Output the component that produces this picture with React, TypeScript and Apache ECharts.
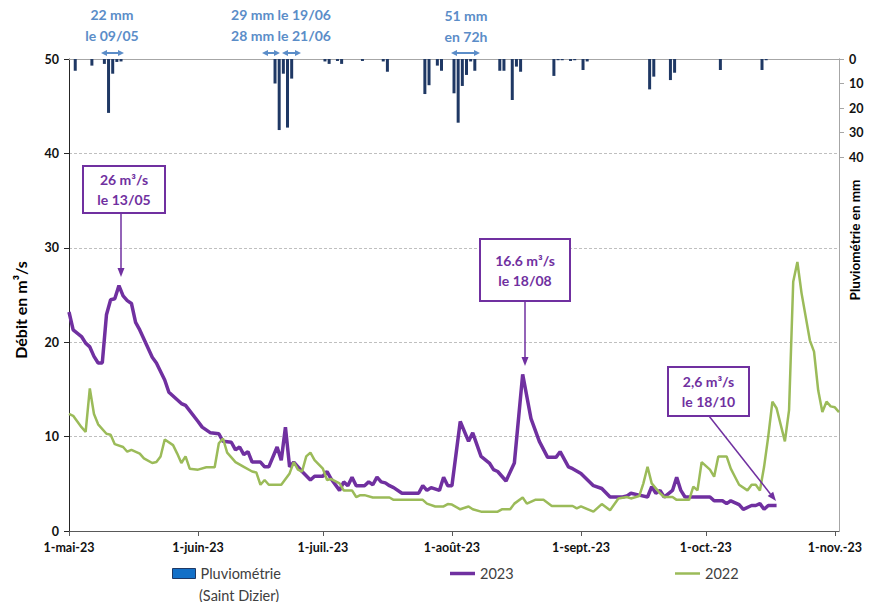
import React, { useEffect, useRef } from "react";
import * as echarts from "echarts";

const YEAR = "2023";
const DAY = 86400000;
const FONT = 'Lato, "Open Sans", sans-serif';

const MONTH_TICKS = ["05-01", "06-01", "07-01", "08-01", "09-01", "10-01", "11-01"];
const MONTH_LABELS = ["1-mai-23", "1-juin-23", "1-juil.-23", "1-août-23", "1-sept.-23", "1-oct.-23", "1-nov.-23"];
const AXIS_END = "11-02";

// Débit 2023 (m3/s)
const flow2023: [string, number][] = [
  ["05-01", 23.2], ["05-02", 21.3], ["05-04", 20.6], ["05-05", 19.9], ["05-06", 19.5], ["05-07", 18.5],
  ["05-08", 17.8], ["05-09", 17.8], ["05-10", 22.9], ["05-11", 24.5], ["05-12", 24.6], ["05-13", 26.0],
  ["05-14", 24.9], ["05-15", 24.4], ["05-16", 24.1], ["05-17", 22.1], ["05-18", 21.3], ["05-21", 18.4],
  ["05-22", 17.8], ["05-24", 16.0], ["05-25", 14.7], ["05-28", 13.5], ["05-29", 13.3], ["06-01", 11.6],
  ["06-02", 11.0], ["06-04", 10.4], ["06-06", 10.3], ["06-07", 9.5], ["06-09", 9.4], ["06-10", 8.6],
  ["06-11", 8.9], ["06-12", 8.1], ["06-13", 8.4], ["06-14", 7.3], ["06-16", 7.3], ["06-17", 6.8],
  ["06-18", 6.8], ["06-20", 8.9], ["06-21", 7.5], ["06-22", 11.0], ["06-23", 6.8], ["06-24", 7.3],
  ["06-26", 6.3], ["06-28", 5.4], ["06-29", 5.8], ["07-01", 5.8], ["07-02", 6.3], ["07-03", 5.5],
  ["07-05", 4.3], ["07-06", 5.2], ["07-07", 4.8], ["07-08", 5.7], ["07-09", 4.8], ["07-11", 4.8],
  ["07-12", 5.2], ["07-13", 4.9], ["07-14", 5.7], ["07-15", 5.2], ["07-16", 5.1], ["07-17", 4.8],
  ["07-18", 4.6], ["07-20", 4.0], ["07-24", 4.0], ["07-25", 4.8], ["07-26", 4.3], ["07-27", 4.6],
  ["07-29", 4.3], ["07-30", 5.7], ["07-31", 4.8], ["08-01", 4.8], ["08-03", 11.6], ["08-05", 9.5],
  ["08-06", 10.4], ["08-08", 7.9], ["08-10", 7.2], ["08-11", 6.5], ["08-12", 6.3], ["08-14", 5.3],
  ["08-16", 7.2], ["08-18", 16.6], ["08-20", 11.9], ["08-22", 9.5], ["08-24", 7.8], ["08-26", 7.8],
  ["08-27", 8.4], ["08-29", 6.8], ["08-30", 6.6], ["09-01", 6.1], ["09-04", 4.8], ["09-06", 4.5],
  ["09-08", 3.6], ["09-11", 3.6], ["09-12", 3.7], ["09-13", 4.0], ["09-15", 3.8], ["09-17", 3.6],
  ["09-18", 4.7], ["09-19", 4.0], ["09-20", 4.3], ["09-21", 3.6], ["09-23", 4.3], ["09-24", 5.7],
  ["09-25", 4.3], ["09-26", 3.6], ["10-02", 3.6], ["10-03", 3.2], ["10-05", 3.2], ["10-06", 2.9],
  ["10-07", 3.2], ["10-09", 2.8], ["10-10", 2.3], ["10-12", 2.7], ["10-13", 2.7], ["10-14", 2.9],
  ["10-15", 2.3], ["10-16", 2.7], ["10-18", 2.7],
];

// Débit 2022 (m3/s), même jour de l'année
const flow2022: [string, number][] = [
  ["05-01", 12.4], ["05-02", 12.2], ["05-04", 11.0], ["05-05", 10.5], ["05-06", 15.1], ["05-07", 12.4],
  ["05-08", 11.3], ["05-10", 10.3], ["05-11", 10.2], ["05-12", 9.2], ["05-14", 8.9], ["05-15", 8.4],
  ["05-16", 8.6], ["05-18", 8.2], ["05-19", 7.7], ["05-21", 7.2], ["05-22", 7.3], ["05-23", 7.9],
  ["05-24", 9.7], ["05-26", 9.1], ["05-27", 8.2], ["05-28", 7.2], ["05-29", 7.9], ["05-30", 6.6],
  ["06-01", 6.5], ["06-03", 6.75], ["06-05", 6.75], ["06-06", 9.3], ["06-07", 9.8], ["06-08", 8.3],
  ["06-10", 7.3], ["06-12", 6.8], ["06-14", 6.3], ["06-15", 6.2], ["06-16", 4.9], ["06-17", 5.4],
  ["06-18", 4.9], ["06-21", 4.9], ["06-23", 6.1], ["06-24", 7.3], ["06-25", 6.5], ["06-26", 6.3],
  ["06-27", 7.9], ["06-28", 8.3], ["06-29", 7.5], ["07-01", 6.6], ["07-02", 5.4], ["07-03", 5.5],
  ["07-05", 5.05], ["07-06", 4.3], ["07-08", 4.3], ["07-09", 3.6], ["07-10", 3.8], ["07-11", 3.8],
  ["07-13", 3.55], ["07-17", 3.55], ["07-18", 3.3], ["07-25", 3.3], ["07-26", 2.9], ["07-28", 2.6],
  ["07-30", 2.6], ["07-31", 2.85], ["08-01", 2.8], ["08-03", 2.3], ["08-05", 2.6], ["08-06", 2.3],
  ["08-08", 2.05], ["08-12", 2.05], ["08-13", 2.3], ["08-15", 2.3], ["08-16", 2.9], ["08-18", 3.55],
  ["08-19", 2.9], ["08-21", 3.3], ["08-23", 3.3], ["08-25", 2.65], ["08-30", 2.65], ["08-31", 2.4],
  ["09-01", 2.6], ["09-04", 2.05], ["09-06", 2.85], ["09-08", 2.2], ["09-10", 3.45], ["09-12", 3.6],
  ["09-13", 3.45], ["09-15", 3.7], ["09-16", 5.05], ["09-17", 6.8], ["09-18", 5.05], ["09-20", 4.0],
  ["09-21", 3.6], ["09-23", 3.6], ["09-24", 3.3], ["09-27", 3.3], ["09-28", 4.7], ["09-29", 4.3],
  ["09-30", 7.3], ["10-02", 6.5], ["10-03", 5.75], ["10-04", 7.9], ["10-06", 7.9], ["10-07", 6.6],
  ["10-08", 5.75], ["10-09", 4.9], ["10-11", 4.3], ["10-12", 4.9], ["10-13", 4.9], ["10-14", 4.3],
  ["10-15", 6.8], ["10-16", 10.0], ["10-17", 13.7], ["10-18", 13.0], ["10-20", 9.5], ["10-21", 12.8],
  ["10-22", 26.4], ["10-23", 28.5], ["10-24", 25.2], ["10-26", 20.2], ["10-27", 19.0], ["10-28", 14.9],
  ["10-29", 12.6], ["10-30", 13.7], ["10-31", 13.2], ["11-01", 13.1], ["11-02", 12.6],
];

// Pluviométrie journalière, Saint Dizier (mm)
const rain: [string, number][] = [
  ["05-01", 4.8], ["05-05", 2.7], ["05-08", 2.0], ["05-09", 22], ["05-10", 6], ["05-11", 1.2], ["05-12", 1.0],
  ["06-18", 10], ["06-19", 29], ["06-20", 6], ["06-21", 28], ["06-22", 8], ["06-30", 1.0], ["07-01", 2.0],
  ["07-03", 0.8], ["07-04", 2.0], ["07-09", 0.8], ["07-14", 1.0], ["07-15", 5.2], ["07-24", 14.3],
  ["07-25", 10.7], ["07-27", 2.7], ["07-28", 4.8], ["07-31", 14], ["08-01", 26], ["08-02", 11],
  ["08-03", 6.5], ["08-04", 1.0], ["08-05", 4.8], ["08-11", 4.8], ["08-12", 4.8], ["08-14", 16.7],
  ["08-15", 3.1], ["08-16", 5.2], ["08-24", 6.9], ["08-25", 0.5], ["08-26", 0.5], ["08-28", 0.8],
  ["08-29", 0.5], ["08-31", 4.5], ["09-01", 1.0], ["09-16", 12.4], ["09-17", 7.2], ["09-21", 8.6],
  ["09-22", 5.6], ["10-03", 4.5], ["10-13", 4.5], ["10-14", 0.5],
];

const ts = (md: string) => new Date(`${YEAR}-${md}T00:00:00`).getTime();

const PURPLE = "#7030A0";
const GREEN = "#9BBB59";
const NAVY = "#1F3864";
const BLUE_TXT = "#5B8DC8";

function arrow(x1: number, y1: number, x2: number, y2: number, color: string, lw: number, hl: number, hw: number) {
  const dx = x2 - x1, dy = y2 - y1, L = Math.hypot(dx, dy);
  const ux = dx / L, uy = dy / L, px = -uy, py = ux;
  const bx = x2 - ux * hl, by = y2 - uy * hl;
  return [
    { type: "line", z: 100, shape: { x1, y1, x2: bx, y2: by }, style: { stroke: color, lineWidth: lw } },
    {
      type: "polygon", z: 100,
      shape: { points: [[x2, y2], [bx + (px * hw) / 2, by + (py * hw) / 2], [bx - (px * hw) / 2, by - (py * hw) / 2]] },
      style: { fill: color },
    },
  ];
}

function doubleArrow(x1: number, x2: number, y: number, color: string) {
  const hl = 6, hw = 6;
  return [
    { type: "line", z: 100, shape: { x1: x1 + hl, y1: y, x2: x2 - hl, y2: y }, style: { stroke: color, lineWidth: 2 } },
    { type: "polygon", z: 100, shape: { points: [[x1, y], [x1 + hl, y - hw / 2], [x1 + hl, y + hw / 2]] }, style: { fill: color } },
    { type: "polygon", z: 100, shape: { points: [[x2, y], [x2 - hl, y - hw / 2], [x2 - hl, y + hw / 2]] }, style: { fill: color } },
  ];
}

function box(x: number, y: number, w: number, h: number, text: string) {
  return [
    { type: "rect", z: 100, shape: { x, y, width: w, height: h }, style: { fill: "#fff", stroke: PURPLE, lineWidth: 2 } },
    {
      type: "text", z: 101, x: x + w / 2, y: y + h / 2,
      style: { text, fill: PURPLE, font: `bold 14px ${FONT}`, align: "center", verticalAlign: "middle", lineHeight: 20 },
    },
  ];
}

function blueText(x: number, y: number, text: string) {
  return {
    type: "text", z: 100, x, y,
    style: { text, fill: BLUE_TXT, font: `bold 14px ${FONT}`, align: "center", verticalAlign: "middle", lineHeight: 21 },
  };
}

export default function App() {
  const ref = useRef<HTMLDivElement>(null);

  useEffect(() => {
    if (!ref.current) return;
    const chart = echarts.init(ref.current, undefined, { renderer: "svg" });
    const tickVals = MONTH_TICKS.map(ts);
    const labelFor = (v: number) => {
      const i = tickVals.indexOf(v);
      return i >= 0 ? MONTH_LABELS[i] : "";
    };
    const legendText = { fontSize: 14.5, color: "#404040", fontFamily: FONT };

    const option: any = {
      animation: false,
      backgroundColor: "#fff",
      textStyle: { fontFamily: FONT },
      grid: [
        { left: 69, right: 30, top: 59, bottom: 71 },
        { left: 69, right: 30, top: 59, height: 98 },
      ],
      xAxis: [
        {
          type: "value", gridIndex: 0, min: ts(MONTH_TICKS[0]), max: ts(AXIS_END),
          axisLine: { show: true, lineStyle: { color: "#595959", width: 1 } },
          axisTick: { show: true, customValues: tickVals, length: 5, lineStyle: { color: "#595959" } },
          axisLabel: {
            customValues: tickVals, formatter: (v: number) => labelFor(v),
            fontWeight: "bold", fontSize: 12.5, color: "#111", margin: 10, fontFamily: FONT,
          },
          splitLine: { show: false },
        },
        {
          type: "value", gridIndex: 1, position: "top",
          min: ts(MONTH_TICKS[0]) - 1.5 * DAY, max: ts(AXIS_END) - 1.5 * DAY,
          axisLine: { show: true, lineStyle: { color: "#A6A6A6", width: 1 } },
          axisTick: { show: false }, axisLabel: { show: false }, splitLine: { show: false },
        },
      ],
      yAxis: [
        {
          type: "value", gridIndex: 0, min: 0, max: 50, interval: 10, position: "left",
          axisLine: { show: true, lineStyle: { color: "#262626", width: 1 } },
          axisTick: { show: true, length: 5, lineStyle: { color: "#262626" } },
          axisLabel: { fontWeight: "bold", fontSize: 12.5, color: "#111", margin: 10, fontFamily: FONT },
          splitLine: { show: true, showMaxLine: false, lineStyle: { color: "#BFBFBF", type: [3, 2], width: 1 } },
        },
        {
          type: "value", gridIndex: 0, min: 0, max: 50, position: "right",
          axisLine: { show: true, lineStyle: { color: "#A6A6A6", width: 1 } },
          axisTick: { show: false }, axisLabel: { show: false }, splitLine: { show: false },
        },
        {
          type: "value", gridIndex: 1, min: 0, max: 40, interval: 10, inverse: true, position: "right",
          axisLine: { show: true, lineStyle: { color: "#A6A6A6", width: 1 } },
          axisTick: { show: true, length: 5, lineStyle: { color: "#A6A6A6" } },
          axisLabel: { fontWeight: "bold", fontSize: 12.5, color: "#111", margin: 10, fontFamily: FONT },
          splitLine: { show: false },
        },
      ],
      legend: [
        {
          left: 172, top: 566, padding: 0, itemWidth: 23, itemHeight: 10,
          textStyle: legendText,
          data: [{ name: "Pluviométrie", icon: "rect", itemStyle: { color: "#1370C8", borderColor: NAVY, borderWidth: 1 } }],
        },
        {
          left: 450, top: 566, padding: 0, itemWidth: 25, itemHeight: 3.5,
          textStyle: legendText,
          data: [{ name: "2023", icon: "rect", itemStyle: { color: PURPLE, borderWidth: 0 } }],
        },
        {
          left: 675, top: 566, padding: 0, itemWidth: 25, itemHeight: 2.5,
          textStyle: legendText,
          data: [{ name: "2022", icon: "rect", itemStyle: { color: GREEN, borderWidth: 0 } }],
        },
      ],
      series: [
        {
          name: "Pluviométrie", type: "bar", xAxisIndex: 1, yAxisIndex: 2, barWidth: 3,
          itemStyle: { color: NAVY },
          data: rain.map(([d, v]) => [ts(d), v]),
        },
        {
          name: "2023", type: "line", xAxisIndex: 0, yAxisIndex: 0, symbol: "none", z: 3,
          lineStyle: { color: PURPLE, width: 3.5 }, itemStyle: { color: PURPLE },
          data: flow2023.map(([d, v]) => [ts(d), v]),
        },
        {
          name: "2022", type: "line", xAxisIndex: 0, yAxisIndex: 0, symbol: "none", z: 4,
          lineStyle: { color: GREEN, width: 2.5 }, itemStyle: { color: GREEN },
          data: flow2022.map(([d, v]) => [ts(d), v]),
        },
      ],
      graphic: [
        {
          type: "text", z: 100, x: 20, y: 310, rotation: Math.PI / 2,
          style: { text: "Débit en m³/s", fill: "#000", font: `bold 16px ${FONT}`, align: "center", verticalAlign: "middle" },
        },
        {
          type: "text", z: 100, x: 855, y: 240, rotation: Math.PI / 2,
          style: { text: "Pluviométrie en mm", fill: "#000", font: `bold 13.5px ${FONT}`, align: "center", verticalAlign: "middle" },
        },
        {
          type: "text", z: 100, x: 199, y: 595,
          style: { text: "(Saint Dizier)", fill: "#404040", font: `14.5px ${FONT}`, align: "left", verticalAlign: "middle" },
        },
        ...box(83, 166, 82, 47, "26 m³/s\nle 13/05"),
        ...arrow(121, 213, 121, 277, PURPLE, 1.5, 9, 7),
        ...box(480, 239, 90, 62, "16.6 m³/s\nle 18/08"),
        ...arrow(525, 301, 525, 366, PURPLE, 1.5, 9, 7),
        ...box(668, 367, 81, 49, "2,6 m³/s\nle 18/10"),
        ...arrow(709, 416, 776, 501, PURPLE, 1.5, 9, 7),
        blueText(112, 25, "22 mm\nle 09/05"),
        ...doubleArrow(101, 124, 53, BLUE_TXT),
        blueText(281, 25, "29 mm le 19/06\n28 mm le 21/06"),
        ...doubleArrow(262, 280, 53, BLUE_TXT),
        ...doubleArrow(282, 301, 53, BLUE_TXT),
        blueText(466, 26, "51 mm\nen 72h"),
        ...doubleArrow(451, 480, 53, BLUE_TXT),
      ],
    };

    chart.setOption(option);
    return () => chart.dispose();
  }, []);

  return <div ref={ref} style={{ position: "absolute", left: 0, top: 0, width: 869, height: 602 }} />;
}
